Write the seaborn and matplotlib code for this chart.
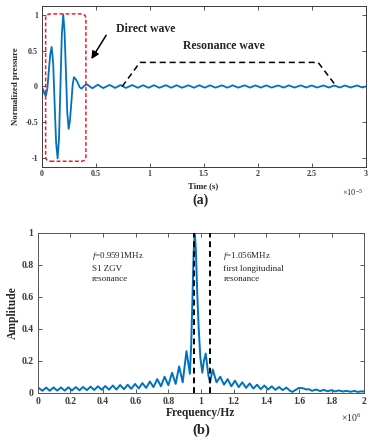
import numpy as np
import pandas as pd
import matplotlib
matplotlib.use('Agg')
import matplotlib.pyplot as plt
import matplotlib.patches as mpatches
import seaborn as sns

# (a) 시간 영역 신호 - 시간 단위: 1e-5 s
direct_t = [0.000, 0.015, 0.028, 0.040, 0.053, 0.066, 0.080, 0.093, 0.107, 0.120,
            0.134, 0.148, 0.161, 0.174, 0.187, 0.200, 0.212, 0.225, 0.237, 0.250,
            0.262, 0.275, 0.287, 0.299, 0.317, 0.335, 0.352, 0.370, 0.395]
direct_v = [0.00, -0.05, -0.11, -0.125, -0.03, 0.21, 0.45, 0.55, 0.32, -0.22,
            -0.78, -1.00, -0.72, 0.00, 0.72, 1.00, 0.77, 0.21, -0.35, -0.59,
            -0.48, -0.23, 0.02, 0.13, 0.10, 0.05, -0.01, -0.03, 0.01]
ripple_t = [0.42, 0.47, 0.52, 0.57, 0.63, 0.68, 0.73, 0.78, 0.84, 0.89,
            0.94, 0.99, 1.04, 1.09, 1.15, 1.20, 1.25, 1.30, 1.36, 1.41,
            1.46, 1.51, 1.56, 1.61, 1.67, 1.72, 1.77, 1.82, 1.88, 1.93,
            1.98, 2.03, 2.08, 2.13, 2.19, 2.24, 2.29, 2.34, 2.40, 2.45,
            2.50, 2.55, 2.61, 2.66, 2.71, 2.76, 2.81, 2.86, 2.92, 2.97, 3.00]
ripple_v = [0.03, -0.025, 0.025, -0.022, 0.022, -0.02, 0.02, -0.02, 0.02, -0.018,
            0.018, -0.018, 0.018, -0.018, 0.018, -0.017, 0.017, -0.017, 0.017, -0.017,
            0.017, -0.016, 0.016, -0.016, 0.016, -0.016, 0.016, -0.016, 0.016, -0.015,
            0.015, -0.015, 0.015, -0.015, 0.015, -0.015, 0.015, -0.015, 0.015, -0.014,
            0.014, -0.014, 0.014, -0.014, 0.014, -0.014, 0.014, -0.014, 0.014, -0.014, 0.0]

# 공진파 표시 점선 (사다리꼴)
reso_t = [0.746, 0.91, 2.56, 2.73]
reso_v = [0.0, 0.335, 0.335, 0.0]

# (b) 주파수 스펙트럼 - 주파수 단위: 1e6 Hz
spec_f = [0.000, 0.006, 0.029, 0.052, 0.074, 0.097, 0.120, 0.142, 0.165, 0.188,
          0.210, 0.233, 0.256, 0.278, 0.301, 0.324, 0.346, 0.369, 0.392, 0.414,
          0.437, 0.460, 0.482, 0.505, 0.528, 0.551, 0.573, 0.596, 0.619, 0.641,
          0.664, 0.687, 0.709, 0.732, 0.755, 0.777, 0.800, 0.823, 0.845, 0.866,
          0.888, 0.911, 0.932, 0.940, 0.948, 0.955, 0.962, 0.969, 0.977, 0.986,
          0.996, 1.008, 1.018, 1.029, 1.045, 1.055, 1.072, 1.095, 1.118, 1.141,
          1.163, 1.186, 1.208, 1.231, 1.253, 1.276, 1.298, 1.321, 1.343, 1.366,
          1.388, 1.411, 1.433, 1.456, 1.478, 1.500, 1.523, 1.545, 1.560, 1.575,
          1.600, 1.625, 1.645, 1.660, 1.680, 1.705, 1.730, 1.750, 1.775, 1.800,
          1.820, 1.845, 1.870, 1.890, 1.915, 1.940, 1.960, 1.985, 2.000]
spec_a = [0.027, 0.030, 0.012, 0.032, 0.012, 0.033, 0.013, 0.033, 0.013, 0.034,
          0.014, 0.035, 0.015, 0.036, 0.016, 0.038, 0.017, 0.040, 0.018, 0.042,
          0.019, 0.045, 0.020, 0.048, 0.022, 0.050, 0.024, 0.055, 0.027, 0.060,
          0.030, 0.070, 0.035, 0.085, 0.040, 0.100, 0.047, 0.125, 0.055, 0.165,
          0.065, 0.260, 0.118, 0.300, 0.600, 0.880, 1.000, 0.880, 0.620, 0.400,
          0.220, 0.125, 0.200, 0.245, 0.110, 0.065, 0.145, 0.065, 0.100, 0.050,
          0.085, 0.040, 0.075, 0.035, 0.065, 0.030, 0.058, 0.026, 0.050, 0.022,
          0.045, 0.020, 0.040, 0.018, 0.036, 0.016, 0.032, 0.012, 0.005, 0.015,
          0.030, 0.028, 0.020, 0.022, 0.012, 0.020, 0.010, 0.018, 0.009, 0.016,
          0.008, 0.014, 0.007, 0.012, 0.006, 0.011, 0.005, 0.009, 0.006]

f_zgv = 0.9591
f_long = 1.056

sns.set_style('ticks')
plt.rcParams['font.family'] = ['Liberation Serif', 'DejaVu Serif']
plt.rcParams['mathtext.fontset'] = 'custom'
plt.rcParams['mathtext.rm'] = 'Liberation Serif'
plt.rcParams['mathtext.it'] = 'Liberation Serif:italic'
plt.rcParams['mathtext.bf'] = 'Liberation Serif:bold'

blue = '#0072BD'
spine_c = '#3a3a3a'

fig = plt.figure(figsize=(3.75, 4.43), dpi=100)
ax1 = fig.add_axes([0.111, 0.623, 0.864, 0.3635])
ax2 = fig.add_axes([0.1005, 0.1135, 0.871, 0.3612])

# ---- (a) ----
df_a = pd.DataFrame({'t': direct_t + ripple_t, 'v': direct_v + ripple_v})
sns.lineplot(data=df_a, x='t', y='v', ax=ax1, color=blue, linewidth=1.3,
             estimator=None, sort=False)
ax1.plot(reso_t, reso_v, color='k', lw=1.1, linestyle=(0, (4, 2.5)))

ax1.set_xlim(0, 3)
ax1.set_ylim(-1.12, 1.12)
ax1.set_xticks([0, 0.5, 1, 1.5, 2, 2.5, 3])
ax1.set_xticklabels(['0', '0.5', '1', '1.5', '2', '2.5', '3'])
ax1.set_yticks([-1, -0.5, 0, 0.5, 1])
ax1.set_yticklabels(['-1', '-0.5', '0', '0.5', '1'])
ax1.tick_params(direction='in', top=True, right=True, length=3, width=0.6,
                labelsize=5.8, pad=2.5, colors=spine_c)
for lab in ax1.get_xticklabels() + ax1.get_yticklabels():
    lab.set_fontweight('bold')
for s in ax1.spines.values():
    s.set_color(spine_c)
    s.set_linewidth(0.7)
ax1.set_xlabel('Time (s)', fontsize=6.2, fontweight='bold', labelpad=3)
ax1.set_ylabel('Normalized pressure', fontsize=6.3, fontweight='bold', labelpad=4)

# 빨간 점선 둥근 박스
box = mpatches.FancyBboxPatch((0.037, -1.04), 0.373, 2.05,
                              boxstyle='round,pad=0,rounding_size=0.045',
                              mutation_aspect=1.5, fill=False, edgecolor='#ee1c25',
                              lw=1.1, linestyle=(0, (2.5, 1.5)), zorder=5)
ax1.add_patch(box)
ax1.annotate('', xy=(0.447, 0.349), xytext=(0.611, 0.745),
             arrowprops=dict(arrowstyle='-|>', color='k', lw=1.1, mutation_scale=11))
ax1.text(0.685, 0.80, 'Direct wave', fontsize=8.5, fontweight='bold', va='center', ha='left')
ax1.text(1.31, 0.57, 'Resonance wave', fontsize=8.5, fontweight='bold', va='center', ha='left')
fig.text(0.913, 0.566, r'$\times10^{-5}$', fontsize=6, ha='left', va='center')
fig.text(0.535, 0.548, '(a)', fontsize=10, fontweight='bold', ha='center', va='center')

# ---- (b) ----
df_b = pd.DataFrame({'f': spec_f, 'a': spec_a})
sns.lineplot(data=df_b, x='f', y='a', ax=ax2, color=blue, linewidth=1.4,
             estimator=None, sort=False)
for fv in [f_zgv, f_long]:
    ax2.plot([fv, fv], [0, 1], color='k', lw=1.4, linestyle=(0, (3, 2)), zorder=3)

ax2.set_xlim(0, 2)
ax2.set_ylim(0, 1)
ax2.set_xticks(np.arange(0, 2.01, 0.2))
ax2.set_xticklabels(['0', '0.2', '0.4', '0.6', '0.8', '1', '1.2', '1.4', '1.6', '1.8', '2'])
ax2.set_yticks([0, 0.2, 0.4, 0.6, 0.8, 1])
ax2.set_yticklabels(['0', '0.2', '0.4', '0.6', '0.8', '1'])
ax2.tick_params(direction='in', top=True, right=True, length=3, width=0.6,
                labelsize=7, pad=3, colors=spine_c)
for lab in ax2.get_xticklabels() + ax2.get_yticklabels():
    lab.set_fontweight('bold')
for s in ax2.spines.values():
    s.set_color('#555555')
    s.set_linewidth(0.7)
ax2.set_xlabel('Frequency/Hz', fontsize=8.3, fontweight='bold', labelpad=1)
ax2.set_ylabel('Amplitude', fontsize=8.3, fontweight='bold', labelpad=2)

ax2.text(0.334, 0.787, '$f$=0.9591MHz\nS1 ZGV\nresonance', fontsize=6.5,
         va='center', ha='left', linespacing=1.45)
ax2.text(1.137, 0.787, '$f$=1.056MHz\nfirst longitudinal\nresonance', fontsize=6.5,
         va='center', ha='left', linespacing=1.45)
fig.text(0.91, 0.056, r'$\times10^{6}$', fontsize=7, ha='left', va='center')
fig.text(0.537, 0.029, '(b)', fontsize=10.5, fontweight='bold', ha='center', va='center')

fig.savefig('out.png', dpi=100)
